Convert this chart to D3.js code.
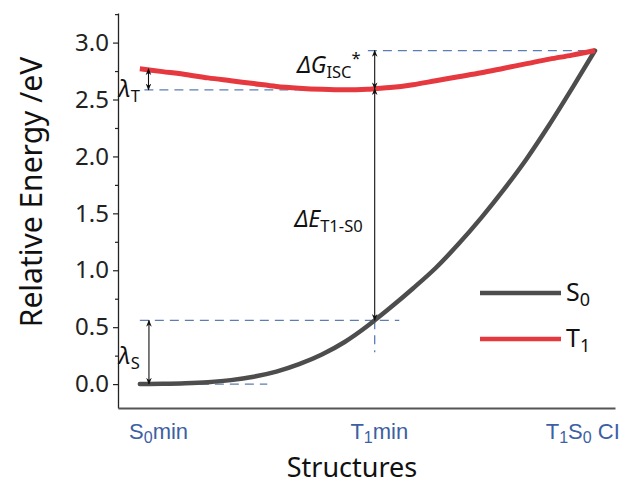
<!DOCTYPE html>
<html>
<head>
<meta charset="utf-8">
<script src="https://cdn.jsdelivr.net/npm/d3@7"></script>
<style>
  html, body { margin: 0; padding: 0; background: #fff; }
  svg { display: block; font-family: "Noto Sans", sans-serif; }
</style>
</head>
<body>
<div id="chart"></div>
<script>
// Reaction coordinate along the path S0min -> T1min -> T1S0 CI
const coord = [0, 0.05, 0.1, 0.15, 0.2, 0.25, 0.3, 0.35, 0.4, 0.45, 0.5, 0.516,
  0.55, 0.6, 0.65, 0.7, 0.75, 0.8, 0.85, 0.9, 0.95, 1];
const s0Energy = [0.00, 0.002, 0.007, 0.017, 0.035, 0.065, 0.11, 0.175, 0.26, 0.37, 0.51, 0.56,
  0.67, 0.84, 1.02, 1.23, 1.46, 1.71, 1.98, 2.28, 2.60, 2.93];
const t1Energy = [2.77, 2.745, 2.72, 2.69, 2.665, 2.64, 2.615, 2.60, 2.59, 2.585, 2.59, 2.595,
  2.605, 2.63, 2.665, 2.70, 2.735, 2.775, 2.815, 2.855, 2.89, 2.93];

// Structures (x positions of labels) and their names
const structNames = [
  [{ t: 'S' }, { t: '0', sub: true }, { t: 'min' }],
  [{ t: 'T' }, { t: '1', sub: true }, { t: 'min' }],
  [{ t: 'T' }, { t: '1', sub: true }, { t: 'S' }, { t: '0', sub: true }, { t: ' CI' }]
];
const structLabelPos = [0.04, 0.525, 0.972];
const yTicks = [0, 0.5, 1.0, 1.5, 2.0, 2.5, 3.0];
const yMinorTicks = [0.25, 0.75, 1.25, 1.75, 2.25, 2.75, 3.25];

// Key points used by the annotations
const t1min = 0.516;
const ciEnergy = 2.93;
const t1AtT1min = 2.595;
const s0AtT1min = 0.56;
const t1AtS0min = 2.77;
const t1Bottom = 2.585;

const width = 625, height = 484;
const svg = d3.select('#chart').append('svg')
  .attr('width', width)
  .attr('height', height);

const x = d3.scaleLinear().domain([-0.048, 1.044]).range([118, 615]);
const y = d3.scaleLinear().domain([-0.21, 3.26]).range([408, 13]);

const blue = '#5b7db3';
const red = '#e6393f';
const grey = '#4d4d4d';

// defs: arrow heads
const defs = svg.append('defs');
defs.append('marker')
  .attr('id', 'arrow')
  .attr('viewBox', '0 0 10 10')
  .attr('refX', 9).attr('refY', 5)
  .attr('markerWidth', 7).attr('markerHeight', 7)
  .attr('markerUnits', 'userSpaceOnUse')
  .attr('orient', 'auto-start-reverse')
  .append('path')
  .attr('d', 'M0,1 L10,5 L0,9 L3,5 Z')
  .attr('fill', '#111');

// Y axis
const yAxis = svg.append('g')
  .attr('transform', `translate(${x.range()[0]},0)`)
  .call(d3.axisLeft(y).tickValues(yTicks).tickFormat(d3.format('.1f')).tickSize(5).tickSizeOuter(0).tickPadding(4));
yAxis.select('.domain').attr('stroke', '#222').attr('stroke-width', 1.3);
yAxis.selectAll('.tick line').attr('stroke', '#222').attr('stroke-width', 1.2);
yAxis.selectAll('.tick text').attr('font-size', 24).attr('fill', '#222')
  .attr('font-family', '"Noto Sans", sans-serif');

svg.append('g')
  .attr('transform', `translate(${x.range()[0]},0)`)
  .call(d3.axisLeft(y).tickValues(yMinorTicks).tickFormat('').tickSize(3).tickSizeOuter(0))
  .call(g => g.select('.domain').remove())
  .selectAll('.tick line').attr('stroke', '#222').attr('stroke-width', 1.2);

// X axis line with structure labels
const xAxis = svg.append('g')
  .attr('transform', `translate(0,${y.range()[0]})`)
  .call(d3.axisBottom(x).tickValues(structLabelPos).tickSize(0).tickSizeOuter(0).tickFormat(''));
xAxis.select('.domain').attr('stroke', '#555').attr('stroke-width', 2);
xAxis.selectAll('.tick').each(function(d, i) {
  const txt = d3.select(this).append('text')
    .attr('y', 31)
    .attr('text-anchor', 'middle')
    .attr('fill', '#3d5fa3')
    .attr('font-size', 22);
  let shift = 0;
  structNames[i].forEach(p => {
    const target = p.sub ? 4 : 0;
    txt.append('tspan')
      .attr('font-size', p.sub ? 16 : 22)
      .attr('dy', target - shift)
      .text(p.t);
    shift = target;
  });
});

// Axis titles
svg.append('text')
  .attr('transform', `translate(42,192) rotate(-90)`)
  .attr('text-anchor', 'middle')
  .attr('font-size', 30)
  .attr('fill', '#111')
  .text('Relative Energy /eV');

svg.append('text')
  .attr('x', 352)
  .attr('y', 477)
  .attr('text-anchor', 'middle')
  .attr('font-size', 27)
  .attr('fill', '#111')
  .text('Structures');

// Dashed guide lines
const guides = [
  { x1: t1min - 0.015, x2: 1, y1: ciEnergy, y2: ciEnergy },
  { x1: 0.01, x2: t1min, y1: t1Bottom, y2: t1Bottom },
  { x1: 0, x2: 0.57, y1: s0AtT1min, y2: s0AtT1min },
  { x1: 0, x2: 0.28, y1: 0, y2: 0 },
  { x1: t1min, x2: t1min, y1: s0AtT1min, y2: 0.28 }
];
svg.append('g').selectAll('line')
  .data(guides)
  .join('line')
  .attr('x1', d => x(d.x1)).attr('x2', d => x(d.x2))
  .attr('y1', d => y(d.y1)).attr('y2', d => y(d.y2))
  .attr('stroke', blue)
  .attr('stroke-width', 1.3)
  .attr('stroke-dasharray', '9,6');

// Curves
const line = d3.line()
  .x((d, i) => x(coord[i]))
  .y(d => y(d))
  .curve(d3.curveMonotoneX);

svg.append('path')
  .datum(s0Energy)
  .attr('d', line)
  .attr('fill', 'none')
  .attr('stroke', grey)
  .attr('stroke-width', 4.5)
  .attr('stroke-linecap', 'round');

svg.append('path')
  .datum(t1Energy)
  .attr('d', line)
  .attr('fill', 'none')
  .attr('stroke', red)
  .attr('stroke-width', 5)
  .attr('stroke-linecap', 'butt');

// Double-headed arrows
const arrows = [
  { x: 0.019, y1: t1AtS0min, y2: t1Bottom },
  { x: 0.02, y1: s0AtT1min, y2: 0 },
  { x: t1min, y1: ciEnergy, y2: t1AtT1min },
  { x: t1min, y1: t1AtT1min, y2: s0AtT1min }
];
svg.append('g').selectAll('line')
  .data(arrows)
  .join('line')
  .attr('x1', d => x(d.x)).attr('x2', d => x(d.x))
  .attr('y1', d => y(d.y1)).attr('y2', d => y(d.y2))
  .attr('stroke', '#111')
  .attr('stroke-width', 1.1)
  .attr('marker-start', 'url(#arrow)')
  .attr('marker-end', 'url(#arrow)');

// Annotation labels
function richText(parent, xPos, yPos, parts, size, anchor) {
  const t = parent.append('text')
    .attr('x', xPos).attr('y', yPos)
    .attr('text-anchor', anchor || 'start')
    .attr('fill', '#111')
    .attr('font-size', size);
  let shift = 0;
  parts.forEach(p => {
    const target = p.sub ? 5 : p.sup ? -9 : 0;
    t.append('tspan')
      .attr('dy', target - shift)
      .attr('font-size', p.sub || p.sup ? size * 0.72 : size)
      .attr('font-style', p.it ? 'italic' : 'normal')
      .text(p.t);
    shift = target;
  });
  return t;
}

const notes = svg.append('g');
richText(notes, x(t1min) - 14, y(2.73), [
  { t: 'ΔG', it: true }, { t: 'ISC', sub: true }, { t: '*', sup: true }
], 23, 'end');
richText(notes, x(t1min) - 12, y(1.38), [
  { t: 'ΔE', it: true }, { t: 'T1-S0', sub: true }
], 23, 'end');
richText(notes, x(-0.047), y(2.52), [
  { t: 'λ', it: true }, { t: 'T', sub: true }
], 23, 'start');
richText(notes, x(-0.047), y(0.18), [
  { t: 'λ', it: true }, { t: 'S', sub: true }
], 23, 'start');

// Legend
const legendItems = [
  { name: 'S', sub: '0', color: grey },
  { name: 'T', sub: '1', color: red }
];
const legend = svg.append('g').attr('transform', 'translate(480,293)');
legendItems.forEach((d, i) => {
  const g = legend.append('g').attr('transform', `translate(0,${i * 46})`);
  g.append('line')
    .attr('x1', 0).attr('x2', 81)
    .attr('stroke', d.color)
    .attr('stroke-width', 4.5);
  richText(g, 86, 8, [{ t: d.name }, { t: d.sub, sub: true }], 25, 'start');
});
</script>
</body>
</html>
